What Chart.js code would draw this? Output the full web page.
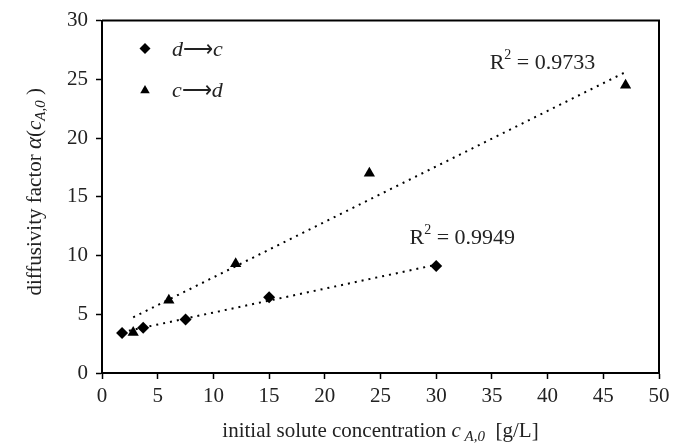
<!DOCTYPE html>
<html>
<head>
<meta charset="utf-8">
<script src="https://cdn.jsdelivr.net/npm/chart.js@4/dist/chart.umd.min.js"></script>
<style>
  html, body { margin: 0; padding: 0; background: #fff; }
</style>
</head>
<body>
<canvas id="chart" width="683" height="443"></canvas>
<script>
// d -> c series (diamonds)
const dcX = [1.8, 3.7, 7.5, 15, 30];
const dcY = [3.4, 3.85, 4.55, 6.45, 9.1];
// c -> d series (triangles)
const cdX = [2.8, 6, 12, 24, 47];
const cdY = [3.45, 6.2, 9.3, 17, 24.5];

const xTicks = [0, 5, 10, 15, 20, 25, 30, 35, 40, 45, 50];
const yTicks = [0, 5, 10, 15, 20, 25, 30];

// R² labels and where they sit (data units)
const r2Text = ['0.9949', '0.9733'];
const r2At = [[27.6, 11.0], [34.8, 25.9]];

const SERIF = '"Liberation Serif", "Times New Roman", serif';

const toPoints = (xs, ys) => xs.map((x, i) => ({ x, y: ys[i] }));

// least squares trend line over the range of the series
const trend = (xs, ys) => {
  const n = xs.length;
  const mx = xs.reduce((a, b) => a + b, 0) / n;
  const my = ys.reduce((a, b) => a + b, 0) / n;
  let sxy = 0, sxx = 0;
  xs.forEach((x, i) => { sxy += (x - mx) * (ys[i] - my); sxx += (x - mx) ** 2; });
  const k = sxy / sxx, b = my - k * mx;
  const lo = Math.min(...xs), hi = Math.max(...xs);
  return [{ x: lo, y: k * lo + b }, { x: hi, y: k * hi + b }];
};

// draw text made of runs: [text, italic, size, dy]
const drawRuns = (ctx, runs, x, y) => {
  for (const [t, it, size, dy] of runs) {
    ctx.font = `${it ? 'italic ' : ''}${size}px ${SERIF}`;
    ctx.fillText(t, x, y + dy);
    x += ctx.measureText(t).width;
  }
};
const runsWidth = (ctx, runs) => runs.reduce((w, [t, it, size]) => {
  ctx.font = `${it ? 'italic ' : ''}${size}px ${SERIF}`;
  return w + ctx.measureText(t).width;
}, 0);

const decorations = {
  id: 'decorations',
  afterDraw(chart) {
    const { ctx, chartArea: a, scales } = chart;
    ctx.save();
    ctx.fillStyle = '#000';
    ctx.strokeStyle = '#000';

    // top and right frame
    ctx.lineWidth = 2;
    ctx.beginPath();
    ctx.moveTo(a.left, a.top);
    ctx.lineTo(a.right, a.top);
    ctx.lineTo(a.right, a.bottom);
    ctx.stroke();

    ctx.textBaseline = 'alphabetic';
    ctx.textAlign = 'left';

    // legend
    const lx = a.left + 43;
    Chart.helpers.drawPoint(ctx, { pointStyle: 'rectRot', radius: 5.5, rotation: 0, borderWidth: 0 }, lx, a.top + 28);
    Chart.helpers.drawPoint(ctx, { pointStyle: 'triangle', radius: 5.5, rotation: 0, borderWidth: 0 }, lx, a.top + 70);
    ctx.fillStyle = '#222';
    drawRuns(ctx, [['d', true, 22, 0], ['\u27f6', false, 21, 0], ['c', true, 22, 0]], a.left + 70, a.top + 35);
    drawRuns(ctx, [['c', true, 22, 0], ['\u27f6', false, 21, 0], ['d', true, 22, 0]], a.left + 70, a.top + 76);

    // R² labels
    r2Text.forEach((t, i) => {
      const px = scales.x.getPixelForValue(r2At[i][0]);
      const py = scales.y.getPixelForValue(r2At[i][1]);
      drawRuns(ctx, [['R', false, 22, 0], ['2', false, 14, -10], [' = ' + t, false, 22, 0]], px, py);
    });

    // x title
    const xr = [['initial solute concentration ', false, 21, 0], ['c', true, 21, 0], [' A,0', true, 15, 4], ['  [g/L]', false, 21, 0]];
    const xw = runsWidth(ctx, xr);
    drawRuns(ctx, xr, (a.left + a.right) / 2 - xw / 2, 437);

    // y title
    const yr = [['diffusivity factor ', false, 21, 0], ['\u03b1', true, 23, 0], ['(', false, 21, 0], ['c', true, 21, 0], ['A,0', true, 15, 4], [' )', false, 21, 0]];
    const yw = runsWidth(ctx, yr);
    ctx.translate(41, (a.top + a.bottom) / 2 - 5);
    ctx.rotate(-Math.PI / 2);
    drawRuns(ctx, yr, -yw / 2, 0);
    ctx.restore();
  }
};

const tickFont = { family: SERIF, size: 21 };

new Chart(document.getElementById('chart'), {
  type: 'scatter',
  data: {
    datasets: [
      {
        label: 'd \u2192 c',
        data: toPoints(dcX, dcY),
        pointStyle: 'rectRot',
        pointRadius: 6,
        backgroundColor: '#000',
        borderWidth: 0,
        order: 1
      },
      {
        label: 'c \u2192 d',
        data: toPoints(cdX, cdY),
        pointStyle: 'triangle',
        pointRadius: 6.5,
        backgroundColor: '#000',
        borderWidth: 0,
        order: 1
      },
      {
        label: 'trend d \u2192 c',
        data: trend(dcX, dcY),
        showLine: true,
        pointRadius: 0,
        borderColor: '#000',
        borderWidth: 2,
        borderDash: [2, 5],
        order: 2
      },
      {
        label: 'trend c \u2192 d',
        data: trend(cdX, cdY),
        showLine: true,
        pointRadius: 0,
        borderColor: '#000',
        borderWidth: 2,
        borderDash: [2, 5],
        order: 2
      }
    ]
  },
  options: {
    responsive: false,
    animation: false,
    layout: { padding: { left: 52, right: 24, top: 18, bottom: 25 } },
    plugins: {
      legend: { display: false },
      tooltip: { enabled: false }
    },
    scales: {
      x: {
        type: 'linear',
        min: 0,
        max: 50,
        afterBuildTicks: s => { s.ticks = xTicks.map(value => ({ value })); },
        afterFit: s => { s.height = 45; },
        grid: { drawOnChartArea: false, drawTicks: true, tickLength: 6, tickWidth: 1.5, color: '#000' },
        border: { display: true, color: '#000', width: 2 },
        ticks: { color: '#222', font: tickFont, padding: 5, maxRotation: 0 }
      },
      y: {
        type: 'linear',
        min: 0,
        max: 30,
        afterBuildTicks: s => { s.ticks = yTicks.map(value => ({ value })); },
        afterFit: s => { s.width = 50; },
        grid: { drawOnChartArea: false, drawTicks: true, tickLength: 6, tickWidth: 1.5, color: '#000' },
        border: { display: true, color: '#000', width: 2 },
        ticks: { color: '#222', font: tickFont, padding: 8 }
      }
    }
  },
  plugins: [decorations]
});
</script>
</body>
</html>
